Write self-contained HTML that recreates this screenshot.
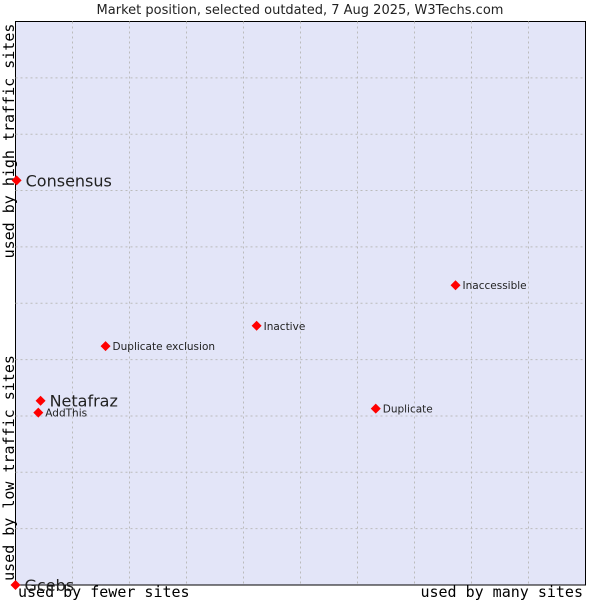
<!DOCTYPE html>
<html><head><meta charset="utf-8"><style>
body{margin:0;background:#fff;width:600px;height:600px;overflow:hidden}
svg{display:block}
</style></head><body>
<svg width="600" height="600">
<text x="300" y="14" text-anchor="middle" font-family="DejaVu Sans, sans-serif" font-size="13" fill="#222">Market position, selected outdated, 7 Aug 2025, W3Techs.com</text>
<rect x="15.5" y="21.5" width="570" height="563.5" fill="#e3e5f8" stroke="#000" stroke-width="1"/>
<g id="grid"></g>
<text transform="translate(14,141) rotate(-90)" text-anchor="middle" font-family="DejaVu Sans Mono, monospace" font-size="15" fill="#000">used by high traffic sites</text>
<text transform="translate(14,468) rotate(-90)" text-anchor="middle" font-family="DejaVu Sans Mono, monospace" font-size="15" fill="#000">used by low traffic sites</text>
<text x="18" y="597" font-family="DejaVu Sans Mono, monospace" font-size="15" fill="#000">used by fewer sites</text>
<text x="583" y="597" text-anchor="end" font-family="DejaVu Sans Mono, monospace" font-size="15" fill="#000">used by many sites</text>
<g id="points"></g>
</svg>
<script>
const names=["Consensus","Netafraz","AddThis","Gcebs","Duplicate exclusion","Inactive","Inaccessible","Duplicate"];
const xVals=[0.2,4.4,4.0,0,15.8,42.3,77.2,63.2];
const yVals=[71.8,32.7,30.6,0,42.4,46.0,53.2,31.3];
const bigLabel=[true,true,false,true,false,false,false,false];
const L=15.5,R=585.5,T=21.5,B=585;
const sx=v=>L+v/100*(R-L), sy=v=>B-v/100*(B-T);
const NS="http://www.w3.org/2000/svg";
const g=document.getElementById('grid');
for(let i=1;i<10;i++){
 const v=document.createElementNS(NS,'line');
 v.setAttribute('x1',sx(i*10));v.setAttribute('x2',sx(i*10));v.setAttribute('y1',T);v.setAttribute('y2',B);
 v.setAttribute('stroke','#bbb');v.setAttribute('stroke-dasharray','2,3');
 
 
 g.appendChild(v);
 const h=document.createElementNS(NS,'line');
 h.setAttribute('y1',sy(i*10));h.setAttribute('y2',sy(i*10));h.setAttribute('x1',L);h.setAttribute('x2',R);
 h.setAttribute('stroke','#bbb');h.setAttribute('stroke-dasharray','2,3');
 
 
 g.appendChild(h);
}
const p=document.getElementById('points');
names.forEach((n,i)=>{
 const x=sx(xVals[i]),y=sy(yVals[i]);
 const d=document.createElementNS(NS,'path');
 d.setAttribute('d',`M${x-5},${y}L${x},${y-5}L${x+5},${y}L${x},${y+5}Z`);
 d.setAttribute('fill','#f00');
 
 
 p.appendChild(d);
 const t=document.createElementNS(NS,'text');
 t.setAttribute('x',x+(bigLabel[i]?9:7));
 t.setAttribute('y',y+(bigLabel[i]?6:4));
 t.setAttribute('font-family','DejaVu Sans, sans-serif');
 t.setAttribute('font-size',bigLabel[i]?'16':'10.5');
 t.setAttribute('fill','#222');
 t.textContent=n;
 
 
 p.appendChild(t);
});
</script>
</body></html>
